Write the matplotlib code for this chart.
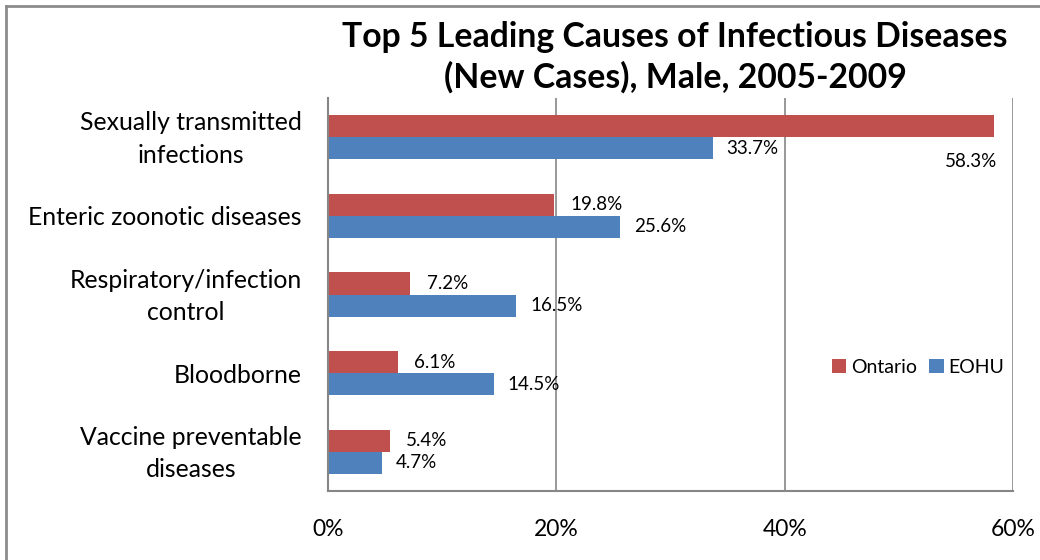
import matplotlib
matplotlib.use("Agg")
import numpy as np
import matplotlib.pyplot as plt
import matplotlib.ticker as ticker
import matplotlib.transforms as mtransforms
from matplotlib.lines import Line2D

# ── Data ──────────────────────────────────────────────────────────────────────
categories = ["Sexually transmitted\ninfections", "Enteric zoonotic diseases",
              "Respiratory/infection\ncontrol", "Bloodborne",
              "Vaccine preventable\ndiseases"]
ontario = [58.3, 19.8, 7.2, 6.1, 5.4]
eohu    = [33.7, 25.6, 16.5, 14.5, 4.7]
x_ticks = [0, 20, 40, 60]

RED  = "#C0504D"
BLUE = "#4F81BD"
GRID = "#868686"
FONT = "Lato"

plt.rcParams["font.family"] = [FONT, "DejaVu Sans"]

fig = plt.figure(figsize=(10.4, 5.6), dpi=100)
ax = fig.add_axes([328 / 1040, 1 - 491 / 560, (1013 - 328) / 1040, (491 - 98) / 560])

y = np.arange(len(categories))
h = 0.28
ax.barh(y - h / 2, ontario, height=h, color=RED, label="Ontario")
ax.barh(y + h / 2, eohu, height=h, color=BLUE, label="EOHU")

ax.set_xlim(0, 60)
ax.set_ylim(len(categories) - 0.5, -0.5)
ax.set_yticks(y)
ax.set_yticklabels(categories, fontsize=17.8, linespacing=1.5, multialignment="center")
ax.set_xticks(x_ticks)
ax.xaxis.set_major_formatter(ticker.FuncFormatter(lambda v, _: f"{v:.0f}%"))
ax.tick_params(axis="x", length=0, pad=20, labelsize=16.5)
ax.tick_params(axis="y", length=0, pad=19)

# nudge two-line category labels up a little (Excel centres them higher)
shift = mtransforms.ScaledTranslation(0, 0.05, fig.dpi_scale_trans)
for lbl in ax.get_yticklabels():
    if "\n" in lbl.get_text():
        lbl.set_transform(lbl.get_transform() + shift)

ax.grid(axis="x", color=GRID, lw=1.2)
ax.set_axisbelow(True)
for s in ["top", "right"]:
    ax.spines[s].set_visible(False)
for s in ["left", "bottom"]:
    ax.spines[s].set_color(GRID)
    ax.spines[s].set_linewidth(1.5)

# data labels (outside end, Excel-style)
for i, v in enumerate(ontario):
    off = (-35, -25) if i == 0 else (12, 0)
    ax.annotate(f"{v:.1f}%", (v, i - h / 2), xytext=off, textcoords="offset points",
                ha="left", va="center", fontsize=13.5)
for i, v in enumerate(eohu):
    ax.annotate(f"{v:.1f}%", (v, i + h / 2), xytext=(10, 0), textcoords="offset points",
                ha="left", va="center", fontsize=13.5)

ax.legend(loc="center left", bbox_to_anchor=(0.71, 0.315), frameon=False,
          fontsize=14, ncol=2, handlelength=0.75, handleheight=0.75,
          handletextpad=0.25, columnspacing=0.6)

fig.text(675 / 1040, 1 - 57 / 560, "Top 5 Leading Causes of Infectious Diseases\n(New Cases), Male, 2005-2009",
         ha="center", va="center", fontsize=24.3, fontweight="bold", linespacing=1.3)

# outer chart border (only top and left visible in the crop)
fig.add_artist(Line2D([6 / 1040, 1.0], [1 - 6 / 560] * 2, color="#8c8c8c", lw=2,
                      transform=fig.transFigure))
fig.add_artist(Line2D([6 / 1040] * 2, [0.0, 1 - 6 / 560], color="#8c8c8c", lw=2,
                      transform=fig.transFigure))

fig.savefig("out.png", dpi=100)
